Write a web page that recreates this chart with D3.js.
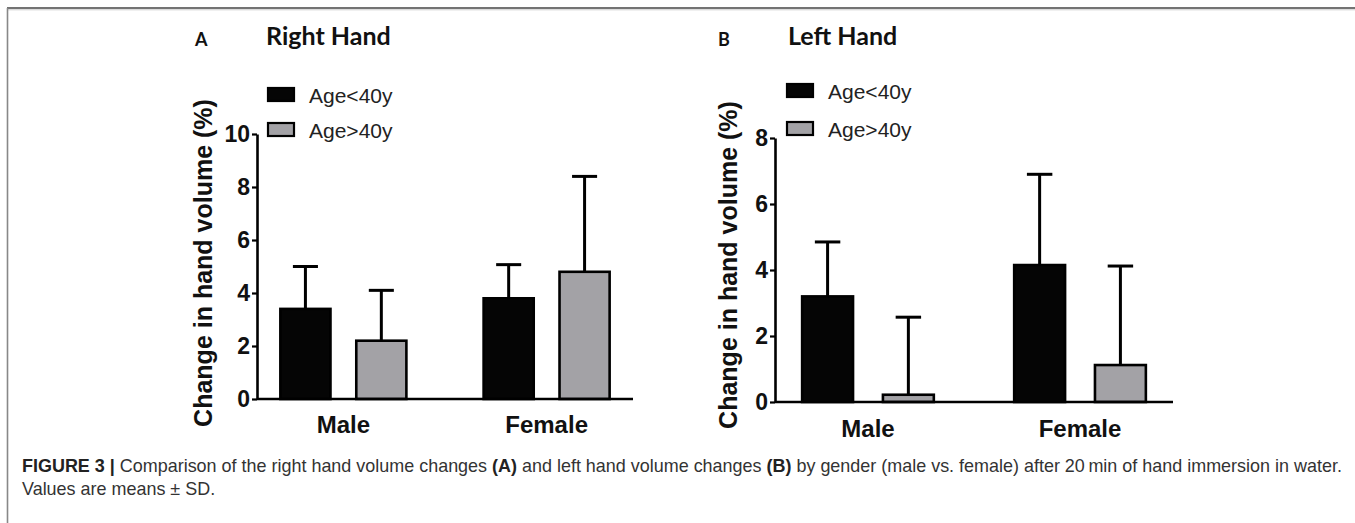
<!DOCTYPE html>
<html>
<head>
<meta charset="utf-8">
<script src="https://cdn.jsdelivr.net/npm/d3@7/dist/d3.min.js"></script>
<style>
  html, body { margin: 0; padding: 0; background: #fff; }
  svg { display: block; }
</style>
</head>
<body>
<svg id="chart" width="1355" height="523"></svg>
<script>
// ---------- DATA ----------
const categories = ["Male", "Female"];
const seriesNames = ["Age<40y", "Age>40y"];
const seriesColors = ["#050505", "#a3a2a6"];

// Right hand (A)
const rightMeanYoung = [3.4, 3.8];
const rightSdYoung   = [1.6, 1.27];
const rightMeanOld   = [2.2, 4.8];
const rightSdOld     = [1.9, 3.6];
const rightTicks     = [0, 2, 4, 6, 8, 10];

// Left hand (B)
const leftMeanYoung = [3.2, 4.15];
const leftSdYoung   = [1.65, 2.75];
const leftMeanOld   = [0.22, 1.12];
const leftSdOld     = [2.35, 3.0];
const leftTicks     = [0, 2, 4, 6, 8];

const yLabel = "Change in hand volume (%)";

// ---------- DRAW ----------
const svg = d3.select("#chart");

// frame lines
svg.append("line").attr("x1", 7).attr("x2", 1355).attr("y1", 8).attr("y2", 8)
  .attr("stroke", "#444").attr("stroke-width", 1.6);
svg.append("line").attr("x1", 7).attr("x2", 1355).attr("y1", 9.8).attr("y2", 9.8)
  .attr("stroke", "#ccc").attr("stroke-width", 1);
svg.append("line").attr("x1", 7.5).attr("x2", 7.5).attr("y1", 8).attr("y2", 523)
  .attr("stroke", "#888").attr("stroke-width", 1.6);

function panel(cfg) {
  const g = svg.append("g");
  const y = d3.scaleLinear().domain([0, cfg.ticks[cfg.ticks.length - 1]]).range([cfg.y0, cfg.yTop]);
  const x0 = d3.scaleBand().domain(categories).range([cfg.xL, cfg.xR])
    .paddingInner(cfg.padInner).paddingOuter(cfg.padOuter);
  const x1 = d3.scaleBand().domain(seriesNames).range([0, x0.bandwidth()]).paddingInner(cfg.barGap);

  const rows = [];
  categories.forEach((c, i) => {
    rows.push({ c, s: seriesNames[0], m: cfg.meanYoung[i], sd: cfg.sdYoung[i], col: seriesColors[0] });
    rows.push({ c, s: seriesNames[1], m: cfg.meanOld[i], sd: cfg.sdOld[i], col: seriesColors[1] });
  });

  // error bars (upper only)
  const eb = g.append("g").selectAll("g").data(rows).join("g");
  eb.append("line")
    .attr("x1", d => x0(d.c) + x1(d.s) + x1.bandwidth() / 2)
    .attr("x2", d => x0(d.c) + x1(d.s) + x1.bandwidth() / 2)
    .attr("y1", d => y(d.m)).attr("y2", d => y(d.m + d.sd))
    .attr("stroke", "#000").attr("stroke-width", 3);
  eb.append("line")
    .attr("x1", d => x0(d.c) + x1(d.s) + x1.bandwidth() / 4)
    .attr("x2", d => x0(d.c) + x1(d.s) + x1.bandwidth() * 3 / 4)
    .attr("y1", d => y(d.m + d.sd)).attr("y2", d => y(d.m + d.sd))
    .attr("stroke", "#000").attr("stroke-width", 3);

  // bars
  g.append("g").selectAll("rect").data(rows).join("rect")
    .attr("x", d => x0(d.c) + x1(d.s))
    .attr("width", x1.bandwidth())
    .attr("y", d => y(d.m))
    .attr("height", d => y(0) - y(d.m))
    .attr("fill", d => d.col)
    .attr("stroke", "#000").attr("stroke-width", 2.6);

  // y axis
  const ya = g.append("g").attr("transform", `translate(${cfg.xL},0)`)
    .call(d3.axisLeft(y).tickValues(cfg.ticks).tickFormat(d3.format("d")).tickSize(5).tickSizeOuter(0).tickPadding(2));
  ya.select(".domain").attr("stroke", "#000").attr("stroke-width", 2.6);
  ya.selectAll(".tick line").attr("stroke", "#000").attr("stroke-width", 2.2);
  ya.selectAll(".tick text").attr("fill", "#111")
    .style("font-family", "Liberation Sans, Arial, sans-serif").style("font-weight", "bold").style("font-size", "23px");

  // x axis
  const xa = g.append("g").attr("transform", `translate(0,${cfg.y0})`)
    .call(d3.axisBottom(x0).tickSize(0).tickSizeOuter(0).tickPadding(cfg.xPad));
  xa.select(".domain").attr("stroke", "#000").attr("stroke-width", 2.6)
    .attr("d", `M${cfg.xL},0H${cfg.xEnd}`);
  xa.selectAll(".tick text").attr("fill", "#111")
    .style("font-family", "Liberation Sans, Arial, sans-serif").style("font-weight", "bold").style("font-size", "24px");

  // y label
  g.append("text")
    .attr("transform", `translate(${cfg.labelX},${cfg.labelY}) rotate(-90)`)
    .attr("text-anchor", "middle")
    .attr("fill", "#111")
    .style("font-family", "Liberation Sans, Arial, sans-serif").style("font-weight", "bold").style("font-size", "25px")
    .text(yLabel);

  // panel letter & title
  g.append("text").attr("x", cfg.letterX).attr("y", 46).text(cfg.letter)
    .attr("fill", "#111").style("font-family", "Lato, sans-serif").style("font-weight", "bold").style("font-size", "18px");
  g.append("text").attr("x", cfg.titleX).attr("y", 45).text(cfg.title)
    .attr("fill", "#111").style("font-family", "Lato, sans-serif").style("font-weight", "bold").style("font-size", "25px");

  // legend
  seriesNames.forEach((s, i) => {
    const ly = cfg.legY[i];
    g.append("rect").attr("x", cfg.legX).attr("y", ly - 7).attr("width", 26).attr("height", 13)
      .attr("fill", seriesColors[i]).attr("stroke", "#000").attr("stroke-width", 2.2);
    g.append("text").attr("x", cfg.legX + 41).attr("y", ly + 7.5).text(s)
      .attr("fill", "#222").style("font-family", "Liberation Sans, Arial, sans-serif").style("font-size", "21px");
  });
}

panel({
  letter: "A", title: "Right Hand", letterX: 195, titleX: 266,
  ticks: rightTicks, y0: 399, yTop: 134,
  xL: 257, xR: 633, xEnd: 633, padInner: 0.38, padOuter: 0.115, barGap: 0.34,
  meanYoung: rightMeanYoung, sdYoung: rightSdYoung, meanOld: rightMeanOld, sdOld: rightSdOld,
  xPad: 17, labelX: 212, labelY: 263, legX: 268, legY: [95, 130]
});

panel({
  letter: "B", title: "Left Hand", letterX: 718, titleX: 788,
  ticks: leftTicks, y0: 402, yTop: 138,
  xL: 775, xR: 1173, xEnd: 1173, padInner: 0.379, padOuter: 0.128, barGap: 0.37,
  meanYoung: leftMeanYoung, sdYoung: leftSdYoung, meanOld: leftMeanOld, sdOld: leftSdOld,
  xPad: 18, labelX: 737, labelY: 265, legX: 787, legY: [91, 129]
});

// caption
const cap = svg.append("g").style("font-family", "Liberation Sans, Arial, sans-serif").attr("fill", "#333");
const l1 = cap.append("text").attr("x", 22).attr("y", 472).style("font-size", "17px");
l1.append("tspan").style("font-weight", "bold").attr("fill", "#222").text("FIGURE 3 | ");
l1.append("tspan").text("Comparison of the right hand volume changes ");
l1.append("tspan").style("font-weight", "bold").attr("fill", "#222").text("(A)");
l1.append("tspan").text(" and left hand volume changes ");
l1.append("tspan").style("font-weight", "bold").attr("fill", "#222").text("(B)");
l1.append("tspan").text(" by gender (male vs. female) after 20\u2009min of hand immersion in water.");
const target = 1343 - 22;
const w = l1.node().getComputedTextLength();
const fs = 17 * target / w;
l1.style("font-size", fs + "px");
cap.append("text").attr("x", 22).attr("y", 495).style("font-size", fs + "px").text("Values are means \u00b1 SD.");
</script>
</body>
</html>
